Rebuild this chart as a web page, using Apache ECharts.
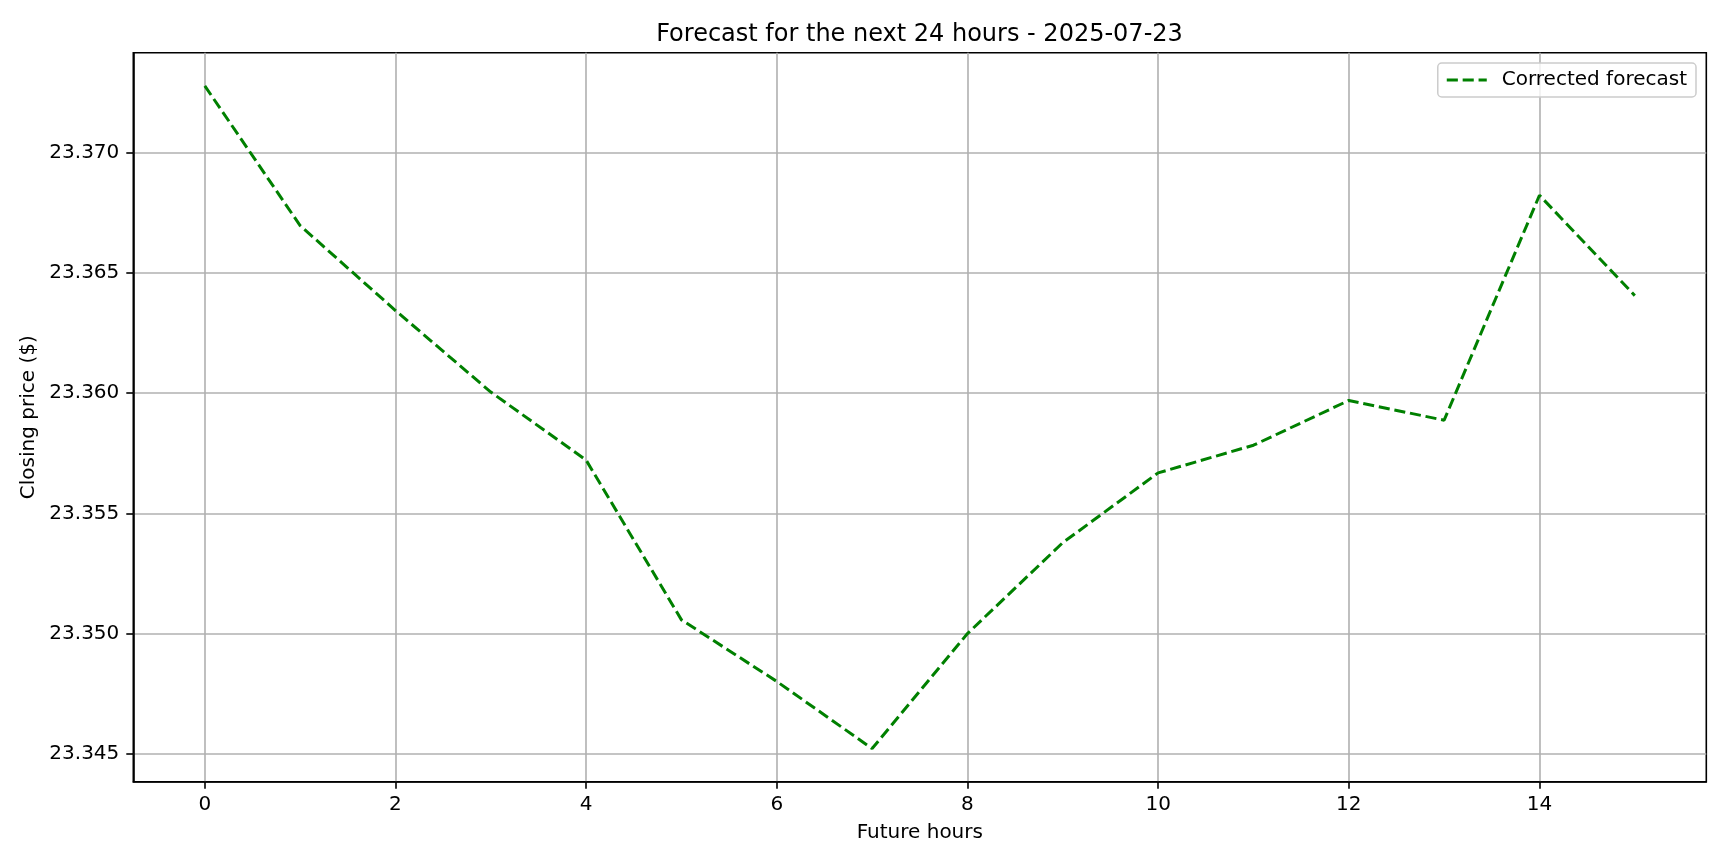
<!DOCTYPE html>
<html>
<head>
<meta charset="utf-8">
<script src="https://cdn.jsdelivr.net/npm/echarts@6/dist/echarts.min.js"></script>
<style>
html,body{margin:0;padding:0;background:#fff;}
#chart{width:1728px;height:864px;}
</style>
</head>
<body>
<div id="chart"></div>
<script>
// ---- data ----
const hours = [0, 1, 2, 3, 4, 5, 6, 7, 8, 9, 10, 11, 12, 13, 14, 15];
const correctedForecast = [23.37277, 23.36696, 23.36343, 23.36004, 23.35721, 23.35057, 23.34801, 23.34522,
  23.35000, 23.35378, 23.35668, 23.35783, 23.35969, 23.35887, 23.36822, 23.36405];
const xTicks = [0, 2, 4, 6, 8, 10, 12, 14];
const yTicks = [23.345, 23.350, 23.355, 23.360, 23.365, 23.370];
const titleText = 'Forecast for the next 24 hours - 2025-07-23';
const xName = 'Future hours';
const yName = 'Closing price ($)';
const seriesName = 'Corrected forecast';

// matplotlib-style 5% data margins
const xMinD = Math.min(...hours), xMaxD = Math.max(...hours);
const yMinD = Math.min(...correctedForecast), yMaxD = Math.max(...correctedForecast);
const xPad = (xMaxD - xMinD) * 0.05, yPad = (yMaxD - yMinD) * 0.05;

const FONT = 'DejaVu Sans';
const dashIcon = 'path://M0,0h11.1v3h-11.1z M15.9,0h11.1v3h-11.1z M31.8,0h8.2v3h-8.2z';
const chart = echarts.init(document.getElementById('chart'), null, {renderer: 'canvas'});
const option = {
  backgroundColor: '#ffffff',
  animation: false,
  textStyle: {fontFamily: FONT},
  title: {
    text: titleText,
    left: 919.5,
    top: 23,
    textAlign: 'center',
    padding: 0,
    textStyle: {fontFamily: FONT, fontSize: 24, fontWeight: 'normal', color: '#000'}
  },
  legend: {
    right: 32,
    top: 63,
    padding: [7, 9, 7, 9],
    itemWidth: 40,
    itemHeight: 3,
    borderColor: '#cccccc',
    borderWidth: 1.5,
    borderRadius: 4,
    backgroundColor: 'rgba(255,255,255,0.8)',
    textStyle: {fontFamily: FONT, fontSize: 20, color: '#000', padding: [0, 0, 0, 10]},
    data: [{name: seriesName, icon: dashIcon, itemStyle: {color: '#008000'}}]
  },
  grid: {
    left: 133.3,
    top: 52.7,
    width: 1573,
    height: 729,
    show: true,
    borderColor: '#000',
    borderWidth: 1.6,
    backgroundColor: 'transparent',
    containLabel: false
  },
  xAxis: {
    type: 'value',
    min: xMinD - xPad,
    max: xMaxD + xPad,
    name: xName,
    nameLocation: 'middle',
    nameGap: 41,
    nameTextStyle: {fontFamily: FONT, fontSize: 20, color: '#000'},
    axisLine: {show: true, onZero: false, lineStyle: {color: '#000', width: 1.6}},
    axisTick: {show: true, length: 7, customValues: xTicks, lineStyle: {color: '#000', width: 1.6}},
    axisLabel: {show: true, margin: 13, customValues: xTicks, fontFamily: FONT, fontSize: 20, color: '#000',
      formatter: v => String(v)},
    splitLine: {show: true, lineStyle: {color: '#b0b0b0', width: 1.6}}
  },
  yAxis: {
    type: 'value',
    min: yMinD - yPad,
    max: yMaxD + yPad,
    name: yName,
    nameLocation: 'middle',
    nameGap: 93,
    nameTextStyle: {fontFamily: FONT, fontSize: 20, color: '#000'},
    axisLine: {show: true, onZero: false, lineStyle: {color: '#000', width: 1.6}},
    axisTick: {show: true, length: 7, customValues: yTicks, lineStyle: {color: '#000', width: 1.6}},
    axisLabel: {show: true, margin: 14, customValues: yTicks, fontFamily: FONT, fontSize: 20, color: '#000',
      formatter: v => Number(v).toFixed(3)},
    splitLine: {show: true, lineStyle: {color: '#b0b0b0', width: 1.6}}
  },
  series: [{
    name: seriesName,
    type: 'line',
    data: hours.map((h, i) => [h, correctedForecast[i]]),
    showSymbol: false,
    symbol: 'none',
    clip: true,
    lineStyle: {color: '#008000', width: 3, type: [11.1, 4.8]},
    itemStyle: {color: '#008000'},
    z: 3
  }]
};
chart.setOption(option);
</script>
</body>
</html>
